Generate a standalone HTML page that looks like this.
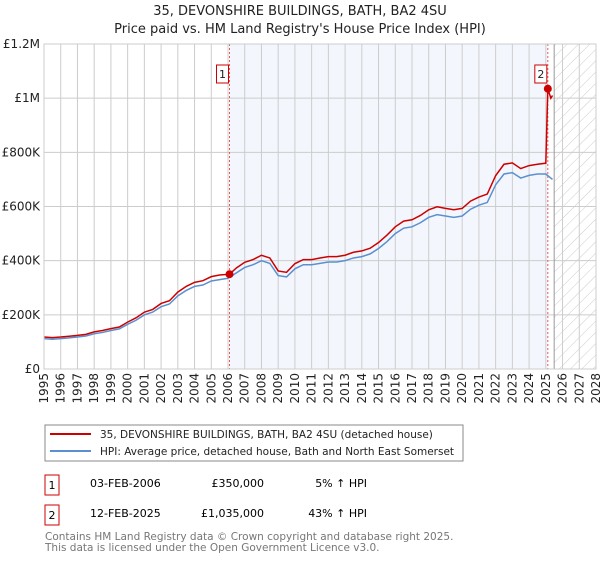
<!DOCTYPE html>
<html><head><meta charset="utf-8"><style>
body{margin:0;background:#fff;font-family:"DejaVu Sans","Liberation Sans",sans-serif;}
svg text{font-family:"DejaVu Sans","Liberation Sans",sans-serif;}
</style></head><body>
<svg id="c" width="600" height="560" xmlns="http://www.w3.org/2000/svg">
<defs><pattern id="hatch" width="8" height="8" patternUnits="userSpaceOnUse" patternTransform="rotate(45)"><line x1="0" y1="0" x2="0" y2="8" stroke="#ccc" stroke-width="1"/></pattern></defs>
<text x="300" y="15" text-anchor="middle" font-size="13" fill="#222">35, DEVONSHIRE BUILDINGS, BATH, BA2 4SU</text>
<text x="300" y="33" text-anchor="middle" font-size="13" fill="#222">Price paid vs. HM Land Registry's House Price Index (HPI)</text>
<g id="plot"></g>
<rect x="45" y="425" width="418" height="36" fill="#fff" stroke="#888"/>
<line x1="50" y1="434" x2="91" y2="434" stroke="#cc0000" stroke-width="2"/>
<text x="100" y="438" font-size="10.5" fill="#222">35, DEVONSHIRE BUILDINGS, BATH, BA2 4SU (detached house)</text>
<line x1="50" y1="451" x2="91" y2="451" stroke="#5b8fd0" stroke-width="2"/>
<text x="100" y="455" font-size="10.5" fill="#222">HPI: Average price, detached house, Bath and North East Somerset</text>
<rect x="45" y="475" width="14" height="20" fill="#fff" stroke="#cc0000"/>
<text x="52" y="489" text-anchor="middle" font-size="11">1</text>
<text x="90" y="487" font-size="11">03-FEB-2006</text>
<text x="264" y="487" text-anchor="end" font-size="11">£350,000</text>
<text x="367" y="487" text-anchor="end" font-size="11">5% ↑ HPI</text>
<rect x="45" y="505" width="14" height="20" fill="#fff" stroke="#cc0000"/>
<text x="52" y="519" text-anchor="middle" font-size="11">2</text>
<text x="90" y="517" font-size="11">12-FEB-2025</text>
<text x="264" y="517" text-anchor="end" font-size="11">£1,035,000</text>
<text x="367" y="517" text-anchor="end" font-size="11">43% ↑ HPI</text>
<text x="45" y="540" font-size="10.5" fill="#777">Contains HM Land Registry data © Crown copyright and database right 2025.</text>
<text x="45" y="551" font-size="10.5" fill="#777">This data is licensed under the Open Government Licence v3.0.</text>
</svg>
<script>
const hpiDates=[1995,1995.5,1996,1996.5,1997,1997.5,1998,1998.5,1999,1999.5,2000,2000.5,2001,2001.5,2002,2002.5,2003,2003.5,2004,2004.5,2005,2005.5,2006,2006.5,2007,2007.5,2008,2008.5,2009,2009.5,2010,2010.5,2011,2011.5,2012,2012.5,2013,2013.5,2014,2014.5,2015,2015.5,2016,2016.5,2017,2017.5,2018,2018.5,2019,2019.5,2020,2020.5,2021,2021.5,2022,2022.5,2023,2023.5,2024,2024.5,2025,2025.4];
const hpiValues=[112,110,112,115,118,122,130,135,142,148,165,180,200,210,230,240,270,290,305,310,325,330,335,355,375,385,400,390,345,340,370,385,385,390,395,395,400,410,415,425,445,470,500,520,525,540,560,570,565,560,565,590,605,615,680,720,725,705,715,720,720,700];
const priceDates=[1995,1995.5,1996,1996.5,1997,1997.5,1998,1998.5,1999,1999.5,2000,2000.5,2001,2001.5,2002,2002.5,2003,2003.5,2004,2004.5,2005,2005.5,2006.09,2006.5,2007,2007.5,2008,2008.5,2009,2009.5,2010,2010.5,2011,2011.5,2012,2012.5,2013,2013.5,2014,2014.5,2015,2015.5,2016,2016.5,2017,2017.5,2018,2018.5,2019,2019.5,2020,2020.5,2021,2021.5,2022,2022.5,2023,2023.5,2024,2024.5,2025.0,2025.12,2025.3,2025.4];
const priceValues=[118,116,118,121,124,128,137,142,149,155,173,189,210,220,242,252,284,305,320,326,341,347,350,373,394,404,420,410,362,357,389,404,404,410,415,415,420,431,436,446,467,494,525,546,551,567,588,599,593,588,593,620,635,646,714,756,761,740,751,756,760,1035,1000,1010];
const sales=[{n:"1",d:2006.09,v:350},{n:"2",d:2025.12,v:1035}];
const yTicks=[0,200,400,600,800,1000,1200];
const yLabels=["£0","£200K","£400K","£600K","£800K","£1M","£1.2M"];
const x0=44,x1=596,y0=369,y1=44,yrMin=1995,yrMax=2028,vMax=1200;
const X=d=>x0+(d-yrMin)/(yrMax-yrMin)*(x1-x0);
const Y=v=>y0-v/vMax*(y0-y1);
const g=document.getElementById('plot');const NS="http://www.w3.org/2000/svg";
function mk(t,a){const e=document.createElementNS(NS,t);for(const k in a)e.setAttribute(k,a[k]);g.appendChild(e);return e;}
let e=mk('rect',{x:X(sales[0].d),y:y1,width:X(sales[1].d)-X(sales[0].d),height:y0-y1,fill:'#eef3fc',opacity:0.7});


e=mk('rect',{x:X(2025.5),y:y1,width:x1-X(2025.5),height:y0-y1,fill:'url(#hatch)'});


for(let yr=yrMin;yr<=yrMax;yr++){
 e=mk('line',{x1:X(yr),x2:X(yr),y1:y1,y2:y0,stroke:'#ccc','stroke-width':1});
 
 
 e=mk('text',{x:0,y:0,transform:`translate(${X(yr)+4},373) rotate(-90)`,'text-anchor':'end','font-size':12,fill:'#222'});
 e.textContent=yr;
 
 
}
yTicks.forEach((v,i)=>{
 e=mk('line',{x1:x0,x2:x1,y1:Y(v),y2:Y(v),stroke:'#ccc','stroke-width':1});
 
 
 e=mk('text',{x:x0-4,y:Y(v)+4,'text-anchor':'end','font-size':12,fill:'#222'});
 e.textContent=yLabels[i];
 
 
});
e=mk('line',{x1:X(2025.5),x2:X(2025.5),y1:y1,y2:y0,stroke:'#999','stroke-width':1});


sales.forEach(s=>{
 e=mk('line',{x1:X(s.d),x2:X(s.d),y1:y1,y2:y0,stroke:'#e55','stroke-width':1,'stroke-dasharray':'2,2'});
 
 
});
e=mk('polyline',{points:hpiDates.map((d,i)=>X(d)+','+Y(hpiValues[i])).join(' '),fill:'none',stroke:'#5b8fd0','stroke-width':1.5});


e=mk('polyline',{points:priceDates.map((d,i)=>X(d)+','+Y(priceValues[i])).join(' '),fill:'none',stroke:'#cc0000','stroke-width':1.5});


sales.forEach(s=>{
 e=mk('circle',{cx:X(s.d),cy:Y(s.v),r:4,fill:'#cc0000'});
 
 
 e=mk('rect',{x:X(s.d)-13,y:65,width:12,height:18,fill:'#fff',stroke:'#cc0000'});
 
 
 e=mk('text',{x:X(s.d)-7,y:78,'text-anchor':'middle','font-size':11,fill:'#222'});
 e.textContent=s.n;
 
 
});
e=mk('rect',{x:x0,y:y1,width:x1-x0,height:y0-y1,fill:'none',stroke:'#ccc'});


</script>
</body></html>
